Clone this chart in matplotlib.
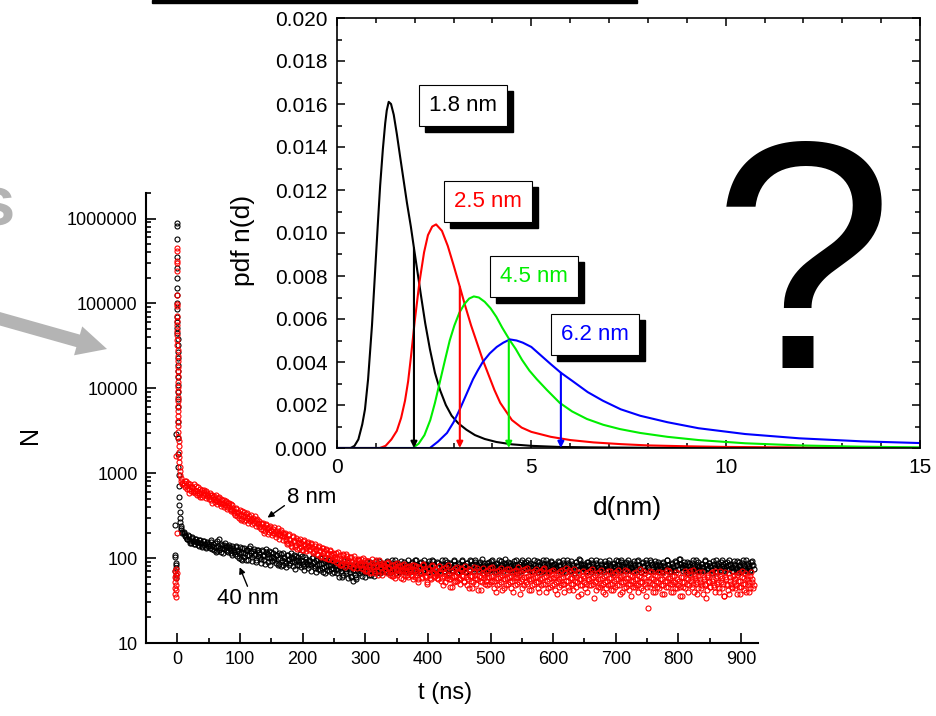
import numpy as np
import matplotlib
matplotlib.use('Agg')
import matplotlib.pyplot as plt
import matplotlib.transforms as mtransforms
from matplotlib.patches import FancyArrow, Rectangle
from matplotlib.ticker import (LogLocator, NullFormatter, MultipleLocator,
                               FuncFormatter, FormatStrFormatter)

plt.rcParams['font.family'] = ['Liberation Sans', 'DejaVu Sans']

# ---------------- main plot: counts N vs time t (ns) ----------------
# pre-trigger points and fast spike
t_black_spike = [-3, -3, -3, -2, -2, -2, -3, -2, -1.5, -1.5,
                 -1, -0.8, -0.5, -0.3, -0.2, 0, -0.2, 0, 0, 0, 0.1, 0.1, 0.2, 0.2,
                 0.3, 0.3, 0.4, 0.4, 0.5, 0.5, 0.6, 0.7, 0.8, 0.9, 1.0, 1.2, 1.4,
                 1.6, 1.8, 2.0, 2.3, 2.6, 3.0, 3.5, 4.0, 4.6, 5.2, 5.9, 6.6, 7.4, 8.2]
n_black_spike = [248, 110, 104, 88, 82, 76, 70, 64, 58, 2900,
                 890000, 820000, 580000, 350000, 260000, 200000, 150000, 125000,
                 100000, 85000, 70000, 60000, 52000, 45000, 38000, 32000, 27000,
                 23000, 19000, 16000, 13500, 11000, 9000, 7500, 6000, 4000, 2600,
                 1700, 1200, 950, 700, 520, 420, 350, 300, 265, 240, 225, 212, 205, 198]

t_red_spike = [-4, -4, -3, -3, -3, -2, -2, -2, -2, -1.5, -1.5, -1, -1, -2,
               -0.5, -0.5, -0.8, -0.3, 0, -0.3, -0.3, -0.2, 0, 0, 0, 0.1, 0.1,
               0.2, 0.2, 0.3, 0.3, 0.4, 0.4, 0.5, 0.5, 0.6, 0.6, 0.7, 0.7, 0.8,
               0.9, 1.0, 1.1, 1.2, 1.3, 1.5, 1.7, 1.9, 2.2, 2.5, 2.9, 3.3, 3.8,
               4.4, 5.0, 5.7, 6.5, 7.3, 8.2]
n_red_spike = [60, 45, 70, 52, 38, 74, 64, 48, 35, 58, 42, 66, 200, 1600,
               450000, 420000, 320000, 300000, 240000, 127000, 94000, 98000,
               72000, 62000, 55000, 48000, 42000, 37000, 32000, 28000, 24000,
               21000, 18000, 16000, 14000, 12000, 10500, 9200, 8000, 7000, 6200,
               5400, 4700, 4100, 3600, 3100, 2700, 2400, 2100, 1800, 1550, 1350,
               1200, 1050, 950, 870, 810, 770, 740]

# slow tail: channels every 2 ns, "even" set starts at 10 ns, "odd" set at 11 ns
t_even_start = 10
t_odd_start = 11
t_step = 2

n_red_even = [
    760, 690, 820, 700, 650, 740, 610, 690, 640, 580, 700, 620, 560, 650, 600, 530, 640, 570, 610, 540,
    520, 590, 480, 550, 500, 460, 560, 470, 520, 440, 500, 430, 480, 420, 470, 400, 450, 380, 430, 370,
    360, 320, 390, 340, 300, 370, 330, 290, 350, 310, 280, 340, 300, 270, 320, 290, 260, 310, 280, 250,
    270, 240, 220, 260, 235, 210, 250, 225, 205, 240, 215, 195, 235, 210, 190, 225, 200, 185, 215, 195,
    180, 200, 170, 150, 190, 165, 140, 180, 160, 135, 172, 155, 130, 168, 150, 125, 162, 148, 120, 155,
    140, 128, 152, 115, 122, 145, 128, 108, 138, 124, 104, 132, 120, 100, 128, 116, 98, 124, 112, 96,
    112, 98, 90, 118, 100, 82, 84, 108, 96, 78, 112, 94, 86, 104, 92, 76, 106, 90, 84, 98,
    94, 82, 76, 100, 86, 70, 72, 92, 84, 66, 98, 80, 70, 90, 82, 64, 94, 78, 68, 88,
    84, 74, 66, 90, 76, 68, 62, 82, 72, 58, 88, 74, 66, 80, 70, 56, 86, 72, 64, 78,
    80, 70, 62, 56, 84, 72, 64, 52, 78, 68, 60, 86, 70, 62, 50, 76, 66, 58, 82, 68,
    60, 74, 64, 56, 80, 68, 58, 48, 76, 66, 58, 82, 64, 56, 46, 72, 62, 54, 78, 66,
    58, 50, 74, 62, 54, 80, 66, 56, 44, 72, 62, 52, 78, 64, 56, 42, 70, 60, 52, 76,
    64, 54, 48, 72, 60, 52, 78, 62, 54, 40, 70, 58, 50, 76, 64, 56, 44, 68, 58, 50,
    74, 62, 54, 40, 70, 60, 50, 78, 64, 54, 44, 72, 60, 52, 76, 62, 56, 42, 68, 58,
    50, 74, 60, 52, 40, 70, 58, 50, 76, 62, 54, 44, 68, 58, 48, 72, 60, 52, 38, 66,
    56, 48, 72, 60, 50, 76, 62, 54, 42, 68, 58, 50, 74, 60, 52, 36, 66, 56, 48, 70,
    58, 50, 40, 68, 56, 48, 74, 60, 52, 42, 66, 56, 46, 72, 58, 50, 38, 64, 54, 48,
    70, 58, 50, 42, 66, 56, 48, 72, 60, 52, 40, 64, 54, 46, 70, 58, 50, 36, 62, 54,
    46, 68, 56, 48, 74, 60, 52, 42, 66, 54, 46, 26, 70, 58, 50, 40, 64, 54, 46, 68,
    56, 48, 38, 66, 54, 46, 72, 58, 50, 40, 62, 52, 44, 68, 56, 48, 36, 60, 52, 46,
    70, 58, 50, 40, 64, 54, 46, 72, 58, 50, 38, 62, 52, 44, 68, 56, 48, 34, 60, 52,
    46, 66, 54, 46, 70, 58, 50, 40, 62, 52, 44, 36, 68, 56, 48, 38, 60, 50, 44, 64,
    56, 48, 38, 66, 54, 46, 70, 58, 50, 40, 62, 52, 44, 68, 56, 48,
]

n_red_odd = [
    720, 800, 660, 760, 590, 710, 680, 600, 750, 620, 560, 680, 590, 520, 630, 560, 600, 510, 580, 560,
    500, 560, 450, 520, 540, 480, 430, 510, 460, 410, 490, 450, 400, 460, 380, 440, 410, 360, 420, 390,
    340, 380, 310, 350, 320, 280, 360, 310, 270, 330, 300, 260, 310, 280, 250, 300, 270, 240, 290, 260,
    230, 260, 250, 215, 200, 245, 225, 190, 230, 210, 185, 220, 200, 175, 210, 190, 170, 205, 180, 165,
    190, 160, 145, 185, 170, 150, 135, 175, 160, 142, 128, 165, 150, 136, 125, 158, 142, 130, 150, 138,
    125, 148, 135, 118, 140, 126, 112, 134, 120, 106, 130, 116, 102, 126, 112, 98, 120, 108, 94, 114,
    104, 116, 100, 88, 110, 96, 86, 112, 98, 84, 106, 92, 80, 102, 90, 78, 98, 88, 76, 94,
    86, 98, 84, 74, 96, 82, 70, 92, 80, 68, 88, 78, 66, 94, 80, 70, 86, 76, 64, 84,
    80, 70, 88, 76, 64, 84, 72, 62, 86, 74, 64, 80, 70, 58, 84, 72, 62, 78, 68, 60,
    74, 64, 84, 70, 60, 80, 68, 56, 76, 66, 58, 82, 70, 60, 52, 74, 64, 56, 80, 66,
    62, 72, 58, 80, 66, 54, 74, 62, 52, 78, 64, 56, 46, 70, 60, 52, 76, 62, 54, 68,
    56, 76, 62, 52, 70, 60, 48, 74, 62, 54, 44, 68, 58, 50, 76, 62, 54, 42, 66, 58,
    50, 70, 60, 50, 76, 62, 54, 44, 68, 58, 48, 72, 60, 52, 42, 66, 56, 48, 74, 60,
    52, 44, 68, 58, 48, 72, 60, 52, 38, 66, 56, 48, 74, 60, 50, 42, 68, 56, 48, 70,
    60, 52, 44, 68, 56, 48, 74, 60, 50, 40, 66, 56, 46, 70, 58, 50, 42, 64, 54, 46,
    70, 58, 50, 40, 66, 54, 46, 72, 58, 50, 42, 64, 54, 46, 68, 56, 48, 38, 62, 52,
    44, 66, 56, 48, 70, 58, 50, 34, 64, 54, 46, 68, 56, 48, 40, 62, 52, 44, 70, 58,
    50, 42, 64, 54, 46, 68, 56, 48, 38, 62, 52, 44, 72, 58, 50, 42, 64, 54, 46, 66,
    56, 48, 40, 62, 52, 44, 70, 58, 50, 36, 64, 54, 46, 68, 56, 48, 40, 62, 52, 44,
    68, 56, 48, 38, 64, 54, 46, 70, 58, 50, 40, 62, 52, 44, 66, 54, 46, 36, 60, 52,
    44, 66, 56, 48, 70, 58, 50, 40, 62, 52, 44, 68, 56, 48, 38, 60, 50, 42, 64, 54,
    46, 68, 56, 48, 40, 62, 52, 44, 70, 58, 50, 36, 60, 50, 42, 66, 54, 46, 62, 52,
    44, 64, 54, 46, 38, 60, 50, 42, 66, 56, 48, 40, 62, 52, 44,
]

n_black_even = [
    205, 188, 176, 170, 182, 160, 150, 172, 158, 146, 168, 154, 140, 162, 150, 136, 158, 146, 134, 155,
    148, 132, 162, 140, 126, 150, 134, 120, 166, 130, 118, 142, 128, 152, 136, 122, 144, 130, 116, 138,
    126, 112, 140, 122, 100, 134, 118, 96, 130, 114, 94, 126, 110, 138, 120, 92, 128, 112, 90, 124,
    118, 104, 88, 122, 108, 86, 128, 112, 100, 84, 118, 104, 96, 124, 108, 82, 114, 100, 80, 116,
    104, 92, 78, 110, 98, 88, 116, 100, 90, 74, 106, 94, 84, 112, 96, 86, 72, 102, 90, 82,
    96, 86, 70, 104, 90, 80, 68, 98, 86, 72, 100, 88, 78, 66, 94, 84, 70, 98, 84, 76,
    68, 90, 80, 72, 60, 86, 76, 64, 92, 78, 70, 58, 84, 74, 62, 54, 80, 72, 60, 86,
    74, 66, 88, 78, 70, 60, 84, 76, 64, 90, 80, 72, 62, 86, 76, 68, 92, 80, 72, 84,
    78, 70, 92, 82, 74, 66, 88, 80, 72, 94, 82, 74, 68, 86, 78, 70, 90, 80, 74, 84,
    76, 68, 90, 82, 74, 94, 84, 76, 70, 88, 80, 72, 96, 84, 76, 68, 86, 78, 72, 92,
    82, 74, 66, 88, 80, 72, 94, 84, 76, 70, 90, 80, 74, 86, 78, 70, 96, 84, 76, 88,
    80, 72, 92, 82, 74, 68, 88, 80, 72, 94, 84, 76, 70, 90, 82, 74, 86, 78, 98, 84,
    76, 70, 88, 80, 72, 92, 82, 74, 68, 86, 78, 72, 94, 84, 76, 70, 88, 80, 74, 90,
    82, 74, 68, 86, 78, 96, 84, 76, 70, 90, 80, 72, 88, 80, 74, 94, 84, 76, 70, 86,
    78, 72, 92, 82, 74, 68, 88, 80, 72, 96, 84, 76, 70, 90, 82, 74, 86, 78, 72, 92,
    82, 74, 68, 88, 80, 72, 94, 84, 76, 70, 86, 78, 72, 90, 82, 74, 98, 86, 78, 84,
    76, 70, 90, 82, 74, 68, 88, 80, 72, 94, 84, 76, 70, 86, 78, 72, 92, 82, 74, 88,
    80, 72, 66, 86, 78, 96, 84, 76, 70, 90, 80, 72, 88, 80, 74, 94, 84, 76, 70, 86,
    78, 72, 92, 82, 74, 68, 88, 80, 72, 96, 84, 76, 70, 90, 82, 74, 86, 78, 72, 90,
    82, 74, 68, 88, 80, 72, 94, 84, 76, 70, 86, 78, 72, 90, 82, 74, 98, 86, 78, 84,
    76, 70, 90, 82, 74, 68, 88, 80, 72, 94, 84, 76, 70, 86, 78, 72, 92, 82, 74, 88,
    80, 72, 66, 86, 78, 96, 84, 76, 70, 90, 80, 72, 88, 80, 74, 94, 84, 76, 70, 86,
    78, 72, 92, 82, 74, 68, 88, 80, 72, 96, 84, 76, 70, 90, 82, 74,
]

n_black_odd = [
    195, 180, 168, 186, 165, 152, 176, 160, 148, 170, 156, 142, 164, 150, 138, 160, 144, 132, 152, 140,
    138, 156, 128, 146, 134, 118, 160, 138, 124, 148, 132, 114, 144, 126, 140, 118, 134, 124, 110, 132,
    118, 136, 106, 126, 114, 98, 132, 116, 104, 124, 110, 96, 130, 114, 102, 120, 108, 94, 124, 106,
    112, 98, 124, 106, 94, 118, 102, 90, 120, 104, 92, 114, 100, 88, 110, 98, 86, 112, 96, 84,
    100, 88, 108, 94, 82, 104, 92, 80, 110, 94, 84, 102, 90, 78, 106, 92, 80, 98, 86, 76,
    92, 82, 100, 88, 76, 96, 84, 74, 100, 86, 76, 68, 92, 80, 72, 96, 82, 74, 66, 88,
    84, 74, 66, 88, 78, 70, 60, 84, 74, 66, 90, 78, 68, 60, 82, 72, 64, 56, 78, 70,
    80, 70, 62, 86, 76, 68, 90, 80, 72, 64, 86, 76, 68, 92, 82, 72, 66, 88, 78, 70,
    86, 76, 68, 90, 80, 72, 96, 84, 74, 66, 88, 78, 70, 92, 82, 74, 68, 86, 76, 94,
    80, 72, 88, 78, 70, 94, 84, 74, 66, 90, 80, 72, 86, 76, 68, 92, 82, 74, 96, 84,
    74, 68, 90, 80, 72, 86, 78, 70, 94, 82, 74, 66, 88, 78, 72, 92, 84, 76, 68, 86,
    78, 70, 94, 84, 76, 68, 88, 80, 72, 92, 82, 74, 96, 86, 76, 70, 90, 80, 72, 88,
    80, 74, 66, 90, 82, 74, 94, 84, 76, 68, 88, 78, 70, 92, 84, 76, 98, 86, 78, 72,
    88, 80, 72, 92, 82, 74, 66, 86, 78, 70, 94, 84, 76, 90, 80, 72, 88, 78, 70, 94,
    84, 76, 68, 90, 80, 72, 96, 86, 76, 70, 88, 80, 72, 92, 82, 74, 86, 78, 70, 90,
    80, 72, 94, 84, 76, 68, 88, 80, 72, 92, 82, 74, 66, 90, 80, 72, 94, 84, 76, 86,
    78, 70, 90, 82, 74, 96, 86, 76, 70, 88, 78, 72, 92, 84, 76, 68, 86, 80, 72, 94,
    84, 76, 68, 88, 80, 72, 92, 82, 74, 96, 86, 78, 70, 90, 80, 72, 88, 78, 70, 92,
    82, 74, 94, 84, 76, 68, 90, 80, 72, 88, 78, 70, 96, 86, 78, 70, 92, 82, 74, 86,
    78, 70, 90, 82, 74, 94, 84, 76, 68, 88, 80, 72, 92, 82, 74, 98, 86, 78, 70, 90,
    82, 74, 66, 88, 80, 72, 94, 84, 76, 70, 90, 80, 72, 86, 78, 70, 94, 84, 76, 88,
    80, 72, 92, 84, 76, 68, 88, 80, 72, 96, 86, 76, 70, 90, 82, 74, 86, 78, 70, 92,
    84, 76, 68, 90, 80, 72, 94, 84, 76, 70, 88, 80, 72, 92, 82,
]

# ---------------- inset: size distributions pdf n(d) ----------------
d_18 = [0, 0.35, 0.45, 0.55, 0.65, 0.72, 0.80, 0.90, 0.98, 1.05, 1.11, 1.18, 1.24, 1.28,
        1.33, 1.39, 1.46, 1.54, 1.62, 1.71, 1.80, 1.90, 1.98, 2.07, 2.16, 2.27, 2.39,
        2.52, 2.65, 2.80, 2.95, 3.12, 3.33, 3.55, 3.80, 4.1, 4.5, 5.0, 5.7, 6.5, 8, 10, 15]
n_18 = [0, 0, 0.0001, 0.0004, 0.0011, 0.0018, 0.0032, 0.0057, 0.0082, 0.0104, 0.0122,
        0.0139, 0.0151, 0.0157, 0.0161, 0.0160, 0.0155, 0.0146, 0.0136, 0.0125, 0.0114,
        0.0103, 0.0093, 0.0082, 0.0071, 0.0058, 0.0046, 0.0035, 0.0027, 0.0020, 0.0015,
        0.00115, 0.00085, 0.0006, 0.00042, 0.00028, 0.00017, 0.0001, 0.00005, 0.00003,
        0.00001, 0, 0]

d_25 = [0, 1.10, 1.25, 1.40, 1.54, 1.65, 1.75, 1.83, 1.90, 2.0, 2.12, 2.24, 2.34, 2.45,
        2.55, 2.70, 2.85, 3.00, 3.16, 3.30, 3.45, 3.60, 3.75, 3.90, 4.05, 4.20, 4.35,
        4.50, 4.75, 5.0, 5.5, 6.0, 6.6, 7.3, 8.0, 9.0, 10, 11.5, 13, 15]
n_25 = [0, 0, 0.0001, 0.0004, 0.0008, 0.0014, 0.0022, 0.0031, 0.0042, 0.0059, 0.0077,
        0.0091, 0.0099, 0.0103, 0.0104, 0.0101, 0.0094, 0.0085, 0.0075, 0.0066, 0.0057,
        0.0049, 0.0041, 0.0034, 0.0027, 0.0021, 0.0017, 0.0013, 0.00095, 0.00075,
        0.00052, 0.00037, 0.00026, 0.00018, 0.00012, 0.00008, 0.00005, 0.00003, 0.00001, 0]

d_45 = [0, 1.95, 2.10, 2.25, 2.40, 2.52, 2.65, 2.78, 2.90, 3.02, 3.15, 3.28, 3.40, 3.52,
        3.65, 3.80, 3.95, 4.10, 4.25, 4.45, 4.60, 4.76, 4.95, 5.14, 5.40, 5.73, 6.05,
        6.43, 6.85, 7.28, 7.8, 8.5, 9.3, 10.5, 11.9, 13.5, 15]
n_45 = [0, 0, 0.0002, 0.0006, 0.0013, 0.0021, 0.0031, 0.0041, 0.0050, 0.0057, 0.0063,
        0.0067, 0.00695, 0.00705, 0.0070, 0.0068, 0.0065, 0.0061, 0.0056, 0.0050, 0.0046,
        0.0041, 0.0036, 0.0032, 0.0027, 0.0021, 0.0017, 0.00135, 0.00108, 0.00088, 0.0007,
        0.00052, 0.00037, 0.00022, 0.00012, 0.00006, 0.00003]

d_62 = [0, 2.39, 2.60, 2.83, 3.0, 3.16, 3.33, 3.50, 3.62, 3.75, 3.93, 4.11, 4.28, 4.45,
        4.62, 4.78, 5.0, 5.25, 5.5, 5.76, 6.07, 6.45, 6.84, 7.3, 7.8, 8.5, 9.3, 10.5,
        11.9, 13.5, 15]
n_62 = [0, 0, 0.0003, 0.0007, 0.0012, 0.0018, 0.0025, 0.0032, 0.0036, 0.0040, 0.0044,
        0.0047, 0.0049, 0.00505, 0.0050, 0.0049, 0.0047, 0.0043, 0.0039, 0.0035, 0.0031,
        0.0026, 0.0022, 0.0018, 0.0015, 0.0012, 0.00092, 0.00065, 0.00045, 0.00031, 0.00023]

size_labels = ['1.8 nm', '2.5 nm', '4.5 nm', '6.2 nm']
mean_d = [1.98, 3.16, 4.42, 5.76]
mean_top = [0.0093, 0.0075, 0.0050, 0.0035]

curve_colors = ['black', '#ff0000', '#00ee00', '#0000ff']

fig = plt.figure(figsize=(9.36, 7.16), dpi=100)

# ---- main axes ----
ax = fig.add_axes([146 / 936, 1 - 643 / 716, (758 - 146) / 936, (643 - 193) / 716])
mk = dict(marker='o', ls='none', mfc='none', ms=3.6, mew=0.8)
ax.plot(t_black_spike, n_black_spike, mec='black', **mk)
ax.plot(t_even_start + t_step * np.arange(len(n_black_even)), n_black_even, mec='black', **mk)
ax.plot(t_odd_start + t_step * np.arange(len(n_black_odd)), n_black_odd, mec='black', **mk)
ax.plot(t_red_spike, n_red_spike, mec='red', **mk)
ax.plot(t_even_start + t_step * np.arange(len(n_red_even)), n_red_even, mec='red', **mk)
ax.plot(t_odd_start + t_step * np.arange(len(n_red_odd)), n_red_odd, mec='red', **mk)

ax.set_yscale('log')
ax.set_ylim(10, 2e6)
ax.set_xlim(-50, 927)
for s in ['top', 'right']:
    ax.spines[s].set_visible(False)
for s in ['left', 'bottom']:
    ax.spines[s].set_linewidth(1.5)
ax.xaxis.set_major_locator(MultipleLocator(100))
ax.xaxis.set_minor_locator(MultipleLocator(50))
ax.yaxis.set_major_locator(LogLocator(base=10, numticks=12))
ax.yaxis.set_minor_locator(LogLocator(base=10, subs=np.arange(2, 10), numticks=12))
ax.yaxis.set_minor_formatter(NullFormatter())
ax.yaxis.set_major_formatter(FuncFormatter(lambda v, p: '%d' % round(v)))
ax.tick_params(which='both', direction='in', width=1.2)
ax.tick_params(which='major', length=7, labelsize=13, pad=6)
ax.tick_params(which='minor', length=3.5)

ax.annotate('', xy=(144, 300), xytext=(171, 415),
            arrowprops=dict(arrowstyle='-|>', color='black', lw=1,
                            mutation_scale=9, shrinkA=0, shrinkB=0))
ax.text(214, 516, '8 nm', fontsize=16, ha='center', va='center')
ax.annotate('', xy=(99.5, 78), xytext=(112, 46.6),
            arrowprops=dict(arrowstyle='-|>', color='black', lw=1,
                            mutation_scale=9, shrinkA=0, shrinkB=0))
ax.text(112, 33.7, '40 nm', fontsize=16, ha='center', va='center')

fig.text(30 / 936, 1 - 435 / 716, 'N', rotation=90, fontsize=18, ha='center', va='center')
fig.text(445 / 936, 1 - 693 / 716, 't (ns)', fontsize=17, ha='center', va='center')

# ---- inset axes ----
ins = fig.add_axes([337 / 936, 1 - 448 / 716, (920 - 337) / 936, (448 - 18) / 716])
ins.patch.set_facecolor('white')
for dd, nn, c in zip([d_18, d_25, d_45, d_62], [n_18, n_25, n_45, n_62], curve_colors):
    ins.plot(dd, nn, color=c, lw=1.5)
for d, top, c in zip(mean_d, mean_top, curve_colors):
    ins.annotate('', xy=(d, 0), xytext=(d, top),
                 arrowprops=dict(arrowstyle='-|>', color=c, lw=1.5,
                                 mutation_scale=9, shrinkA=0, shrinkB=0))
ins.set_xlim(0, 15)
ins.set_ylim(0, 0.020)
ins.xaxis.set_major_locator(MultipleLocator(5))
ins.xaxis.set_minor_locator(MultipleLocator(1))
ins.yaxis.set_major_locator(MultipleLocator(0.002))
ins.yaxis.set_minor_locator(MultipleLocator(0.001))
ins.yaxis.set_major_formatter(FormatStrFormatter('%.3f'))
for s in ins.spines.values():
    s.set_linewidth(1.2)
ins.tick_params(which='both', direction='in', top=True, right=True, width=1.1)
ins.tick_params(which='major', length=6, labelsize=15, pad=7)
ins.tick_params(which='minor', length=3.5)

box_x = [3.24, 3.89, 5.06, 6.63]
box_y = [0.01594, 0.01148, 0.0080, 0.00529]
shadow = mtransforms.offset_copy(ins.transData, fig=fig, x=6, y=-6, units='dots')
for lbl, x, y, c in zip(size_labels, box_x, box_y, curve_colors):
    ins.text(x, y, lbl, transform=shadow, color='black', fontsize=16, ha='center',
             va='center', zorder=5,
             bbox=dict(boxstyle='square,pad=0.45', fc='black', ec='black'))
    ins.text(x, y, lbl, color=c, fontsize=16, ha='center', va='center', zorder=6,
             bbox=dict(boxstyle='square,pad=0.45', fc='white', ec='black', lw=0.8))

fig.text(243 / 936, 1 - 240 / 716, 'pdf n(d)', rotation=90, fontsize=19, ha='center', va='center')
fig.text(627 / 936, 1 - 508 / 716, 'd(nm)', fontsize=19, ha='center', va='center')

# ---- decorations ----
fig.text(803 / 936, 1 - 368 / 716, '?', fontsize=234, ha='center', va='baseline', zorder=10)
fig.text(15 / 936, 1 - 225 / 716, 's', fontsize=51, fontweight='bold', color='#b3b3b3',
         ha='right', va='baseline')
fig.add_artist(FancyArrow(-0.10, 4.00, 1.17, -0.33, width=0.13, head_width=0.30,
                          head_length=0.30, length_includes_head=True, color='#b4b4b4',
                          lw=0, transform=fig.dpi_scale_trans))
fig.add_artist(Rectangle((152 / 936, 1 - 3 / 716), (637 - 152) / 936, 3 / 716,
                         transform=fig.transFigure, color='black'))

fig.savefig('out.png', dpi=100)
